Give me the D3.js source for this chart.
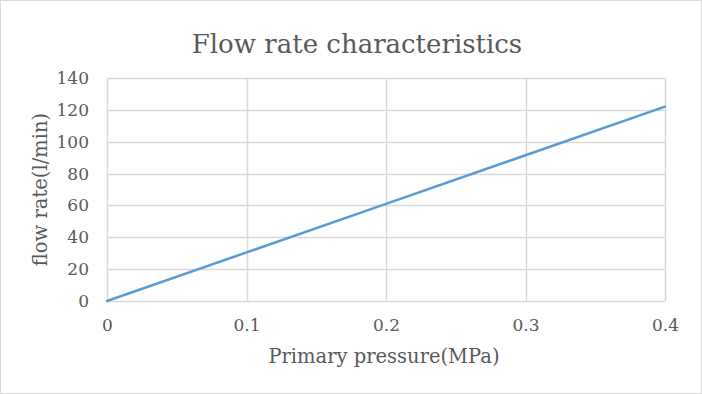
<!DOCTYPE html>
<html>
<head>
<meta charset="utf-8">
<script src="https://cdn.jsdelivr.net/npm/d3@7"></script>
<style>
  body { margin: 0; background: #fff; }
  svg { display: block; }
  text { font-family: "DejaVu Serif", "Liberation Serif", serif; fill: #595959; }
</style>
</head>
<body>
<svg id="chart" width="702" height="394"></svg>
<script>
// pressure (MPa) vs flow rate (l/min)
const pressure = [0, 0.1, 0.2, 0.3, 0.4];
const flowRate = [0, 30.5, 61, 91.5, 122];
const xTicks = [0, 0.1, 0.2, 0.3, 0.4];
const yTicks = [0, 20, 40, 60, 80, 100, 120, 140];

const width = 702, height = 394;
const margin = { top: 78, right: 37, bottom: 93, left: 107 };

const svg = d3.select("#chart");

svg.append("rect")
  .attr("x", 0.5).attr("y", 0.5)
  .attr("width", width - 1).attr("height", height - 1)
  .attr("fill", "#fff")
  .attr("stroke", "#d9d9d9");

const x = d3.scaleLinear().domain([0, 0.4]).range([margin.left, width - margin.right]);
const y = d3.scaleLinear().domain([0, 140]).range([height - margin.bottom, margin.top]);

// gridlines
svg.append("g")
  .selectAll("line")
  .data(yTicks)
  .join("line")
    .attr("x1", x(0)).attr("x2", x(0.4))
    .attr("y1", d => Math.round(y(d)) + 0.5)
    .attr("y2", d => Math.round(y(d)) + 0.5)
    .attr("stroke", "#d9d9d9")
    .attr("stroke-width", 1.5);

svg.append("g")
  .selectAll("line")
  .data(xTicks)
  .join("line")
    .attr("x1", d => Math.round(x(d)) + 0.5)
    .attr("x2", d => Math.round(x(d)) + 0.5)
    .attr("y1", y(0)).attr("y2", y(140))
    .attr("stroke", "#d9d9d9")
    .attr("stroke-width", 1.5);

// axes labels
const yAxis = d3.axisLeft(y).tickValues(yTicks).tickSize(0).tickPadding(18);
svg.append("g")
  .attr("transform", `translate(${margin.left},0)`)
  .call(yAxis)
  .call(g => g.select(".domain").remove())
  .call(g => g.selectAll("text").attr("font-size", 17).style("font-family", "DejaVu Serif").attr("fill", "#595959"));

const xAxis = d3.axisBottom(x).tickValues(xTicks).tickSize(0).tickPadding(18).tickFormat(d3.format("~g"));
svg.append("g")
  .attr("transform", `translate(0,${height - margin.bottom})`)
  .call(xAxis)
  .call(g => g.select(".domain").remove())
  .call(g => g.selectAll("text").attr("font-size", 17).style("font-family", "DejaVu Serif").attr("fill", "#595959"));

// series line
const line = d3.line()
  .x((d, i) => x(pressure[i]))
  .y(d => y(d));

svg.append("path")
  .datum(flowRate)
  .attr("d", line)
  .attr("fill", "none")
  .attr("stroke", "#5b9bd5")
  .attr("stroke-width", 2.5)
  .attr("stroke-linecap", "round");

// titles
svg.append("text")
  .attr("x", 357).attr("y", 53)
  .attr("text-anchor", "middle")
  .attr("font-size", 26)
  .text("Flow rate characteristics");

svg.append("text")
  .attr("x", 384).attr("y", 363)
  .attr("text-anchor", "middle")
  .attr("font-size", 19.5)
  .text("Primary pressure(MPa)");

svg.append("text")
  .attr("transform", `translate(47,${(y(0) + y(140)) / 2}) rotate(-90)`)
  .attr("text-anchor", "middle")
  .attr("font-size", 19.5)
  .text("flow rate(l/min)");
</script>
</body>
</html>
